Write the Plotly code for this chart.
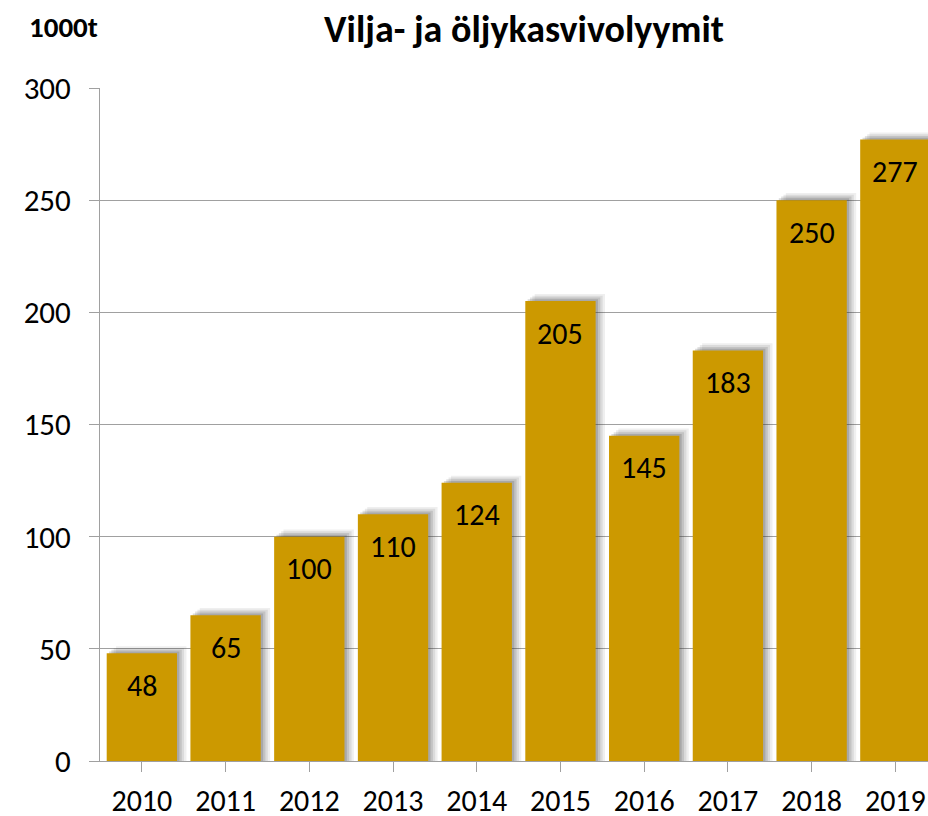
import plotly.graph_objects as go

years = ["2010", "2011", "2012", "2013", "2014", "2015", "2016", "2017", "2018", "2019"]
volumes = [48, 65, 100, 110, 124, 205, 145, 183, 250, 277]

title_text = "Vilja- ja öljykasvivolyymit"
unit_text = "1000t"
y_ticks = [0, 50, 100, 150, 200, 250, 300]

BAR_COLOR = "#CC9900"
GRID = "#A0A0A0"
FONT = "Carlito, Calibri, Lato, sans-serif"
BAR_W = 0.84

fig = go.Figure()

# soft drop-shadow layers (up and to the right)
for k, a in [(4, 0.08), (3, 0.10), (2, 0.14), (1, 0.18)]:
    fig.add_trace(go.Bar(
        x=list(range(len(years))),
        y=[v + 0.8 * k for v in volumes],
        width=BAR_W,
        offset=-BAR_W / 2 + 0.028 * k,
        marker=dict(color=f"rgba(50,50,50,{a})", line=dict(width=0)),
        hoverinfo="skip",
        showlegend=False,
    ))

fig.add_trace(go.Bar(
    x=list(range(len(years))),
    y=volumes,
    width=BAR_W,
    marker=dict(color=BAR_COLOR, line=dict(width=0)),
    showlegend=False,
))

for i, v in enumerate(volumes):
    fig.add_annotation(
        x=i, y=v, text=str(v), showarrow=False,
        yanchor="middle", yshift=-32,
        font=dict(family=FONT, size=30, color="black"),
    )

fig.add_annotation(
    xref="paper", yref="paper", x=-0.088, y=1.09,
    xanchor="left", yanchor="middle", text=f"<b>{unit_text}</b>",
    showarrow=False, font=dict(family=FONT, size=29, color="black"),
)

fig.update_layout(
    width=928, height=816,
    margin=dict(l=100, r=0, t=88, b=55, autoexpand=False),
    paper_bgcolor="white", plot_bgcolor="white",
    barmode="overlay",
    title=dict(
        text=f"<b>{title_text}</b>",
        x=524 / 928, xanchor="center", xref="container",
        y=1 - 29 / 816, yanchor="middle", yref="container",
        font=dict(family=FONT, size=38, color="black"),
        automargin=False,
    ),
    font=dict(family=FONT, size=30, color="black"),
)

fig.update_xaxes(
    range=[-0.5, 9.39],
    tickmode="array", tickvals=list(range(len(years))), ticktext=years,
    ticks="outside", tickson="boundaries", ticklen=10, tickcolor=GRID, tickwidth=1,
    showline=True, linecolor=GRID, linewidth=1,
    showgrid=False, zeroline=False,
    tickfont=dict(family=FONT, size=30, color="black"),
    ticklabelstandoff=3,
    automargin=False,
)

fig.update_yaxes(
    range=[0, 300],
    tickmode="array", tickvals=y_ticks,
    ticks="outside", ticklen=10, tickcolor=GRID, tickwidth=1,
    showline=True, linecolor=GRID, linewidth=1,
    showgrid=True, gridcolor=GRID, gridwidth=1,
    zeroline=False,
    tickfont=dict(family=FONT, size=31, color="black"),
    ticklabelstandoff=12,
    automargin=False,
)

fig.write_html(
    "out.html",
    config={"displayModeBar": False},
    post_script="document.body.style.margin='0';document.body.style.overflow='hidden';",
)
